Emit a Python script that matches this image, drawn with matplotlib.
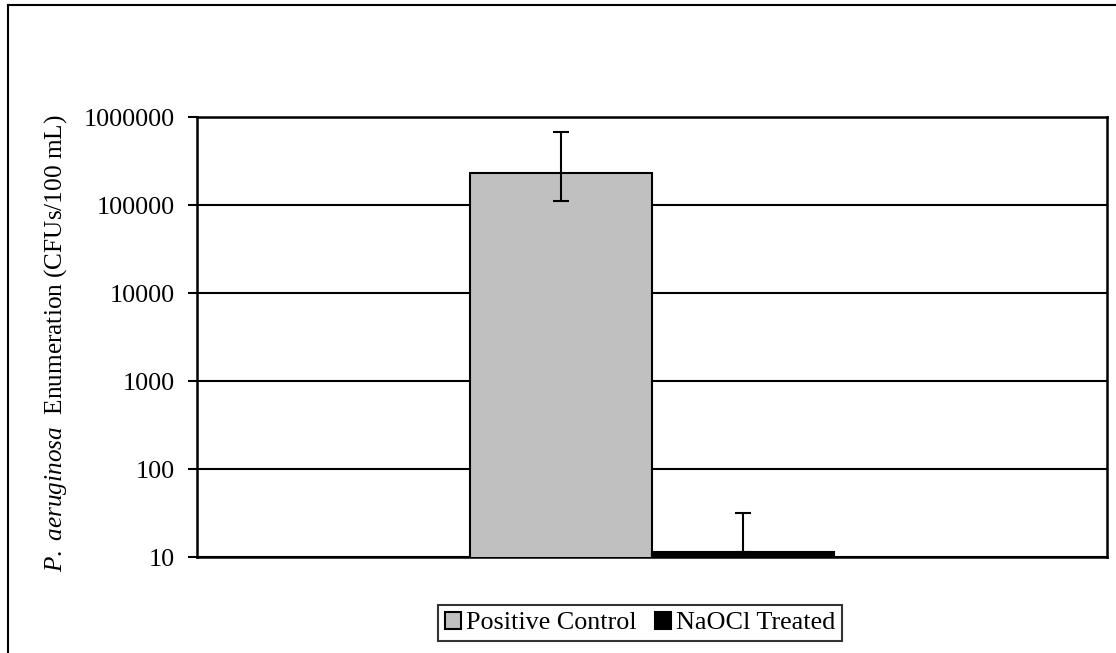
import matplotlib
matplotlib.use("Agg")
import matplotlib.pyplot as plt
import numpy as np
from matplotlib.lines import Line2D

plt.rcParams['font.family'] = ['Liberation Serif', 'DejaVu Serif']
plt.rcParams['mathtext.fontset'] = 'custom'
plt.rcParams['mathtext.rm'] = 'Liberation Serif'
plt.rcParams['mathtext.it'] = 'Liberation Serif:italic'

series = ["Positive Control", "NaOCl Treated"]
values = [231000, 11.5]
err_low = [121000, 0]
err_high = [445000, 20]
colors = ["#c0c0c0", "#000000"]
yticks = [10, 100, 1000, 10000, 100000, 1000000]
ytick_labels = ["10", "100", "1000", "10000", "100000", "1000000"]

W, H = 1116, 653
FS = 18.8
fig = plt.figure(figsize=(W/100, H/100), dpi=100)
L, R, T, B = 197, 1107, 117, 557
ax = fig.add_axes([L/W, 1 - B/H, (R-L)/W, (B-T)/H])
ax.set_yscale('log')

offsets = [-0.1, 0.1]
for i, (name, v) in enumerate(zip(series, values)):
    ax.bar(offsets[i], v, width=0.2, color=colors[i], edgecolor='black',
           linewidth=1.5, label=name, zorder=3)
    ax.errorbar(offsets[i], v, yerr=[[err_low[i]], [err_high[i]]], fmt='none',
                ecolor='black', elinewidth=1.5, capsize=5.5, capthick=1.5, zorder=4)

ax.set_ylim(10, 1000000)
ax.set_xlim(-0.5, 0.5)
ax.set_yticks(yticks)
ax.set_yticklabels(ytick_labels)
ax.minorticks_off()
ax.yaxis.grid(True, color='black', linewidth=1.5, zorder=0)
ax.set_axisbelow(True)
ax.set_xticks([])
ax.tick_params(axis='y', length=6.5, width=1.5, pad=9.4, labelsize=FS)
for s in ax.spines.values():
    s.set_linewidth(1.8)

fig.text(56/W, 1 - 343/H, r"$\mathit{P.\ aeruginosa}$  Enumeration (CFUs/100 mL)",
         rotation=90, ha='center', va='center', fontsize=18.2)

leg = fig.legend(loc='center', bbox_to_anchor=(640/W, 1 - 623/H), ncol=2,
                 fontsize=FS, frameon=True, fancybox=False, edgecolor='black',
                 handlelength=0.62, handleheight=0.62, handletextpad=0.2,
                 columnspacing=0.7, borderpad=0.25, borderaxespad=0)
leg.get_frame().set_linewidth(1.5)

fig.add_artist(Line2D([8/W, 1.0], [1 - 5/H, 1 - 5/H], transform=fig.transFigure,
                      color='black', linewidth=1.5))
fig.add_artist(Line2D([8/W, 8/W], [1 - 5/H, 0], transform=fig.transFigure,
                      color='black', linewidth=1.5))

fig.savefig("out.png", dpi=100)
